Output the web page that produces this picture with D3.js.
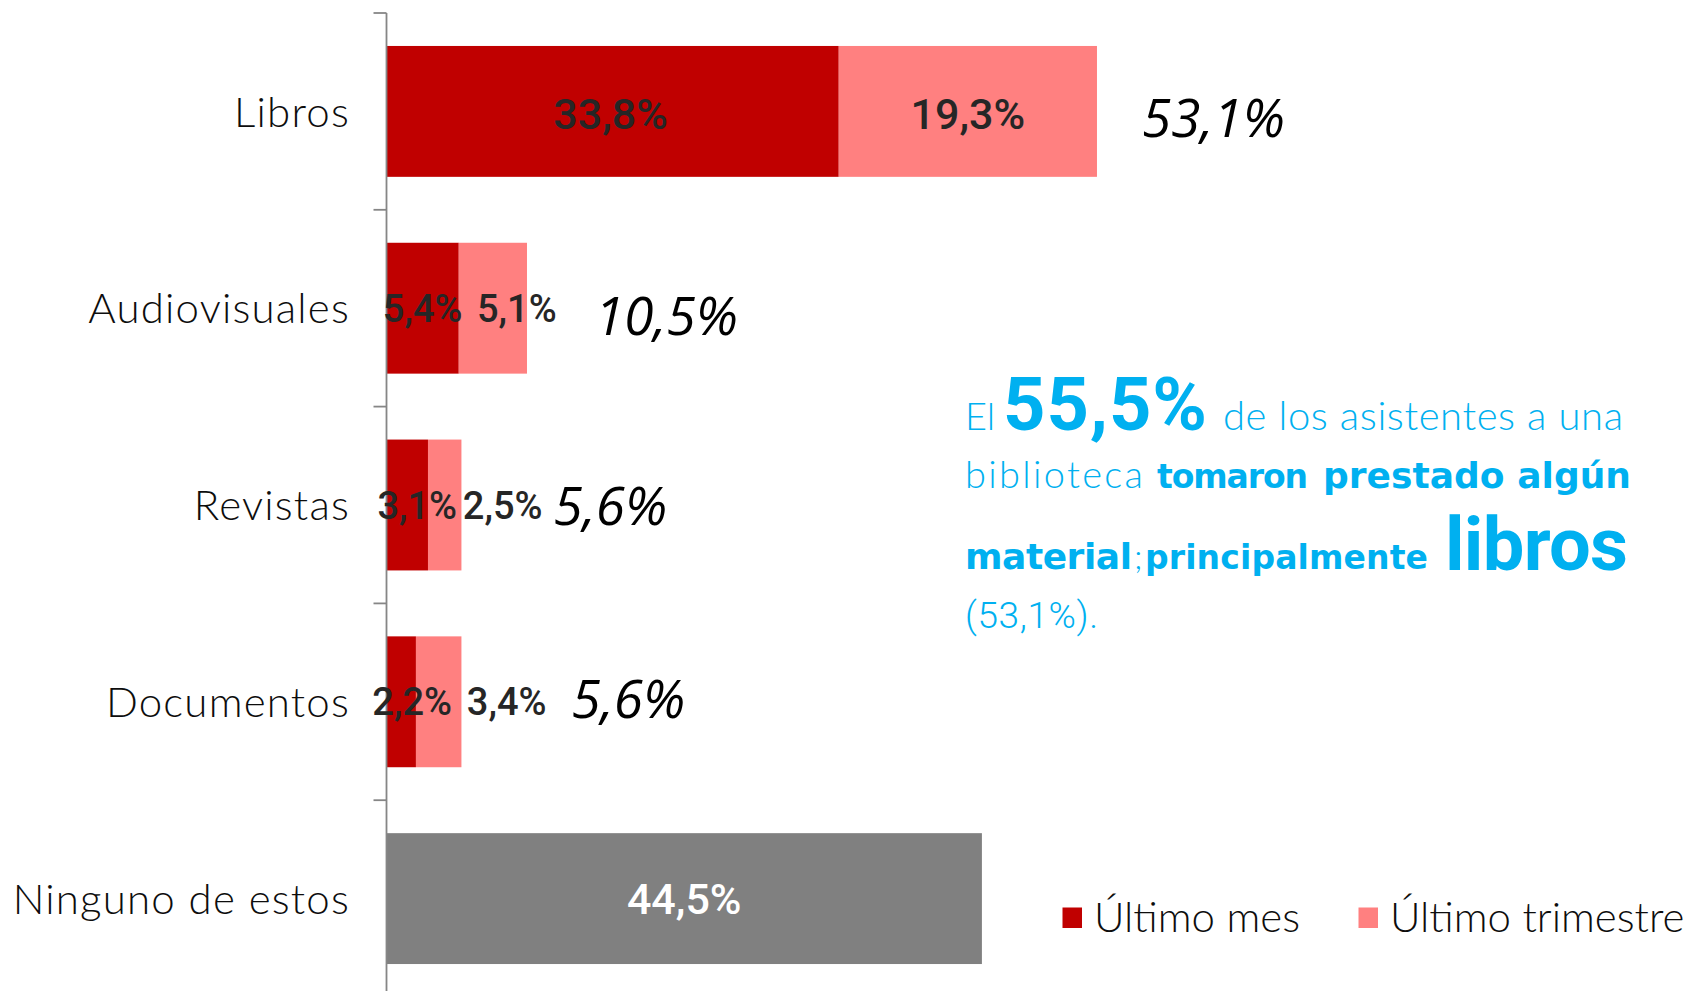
<!DOCTYPE html>
<html lang="es">
<head>
<meta charset="utf-8">
<title>Préstamo de materiales</title>
<script src="https://cdn.jsdelivr.net/npm/d3@7/dist/d3.min.js"></script>
<style>
  html, body { margin: 0; padding: 0; background: #ffffff; overflow: hidden; }
  svg { display: block; }
</style>
</head>
<body>
<svg id="chart" width="1688" height="991"></svg>
<script>
// Material prestado por la biblioteca (porcentaje de asistentes)
const categories = ["Libros", "Audiovisuales", "Revistas", "Documentos", "Ninguno de estos"];
const seriesNames = ["Último mes", "Último trimestre"];
const ultimoMes = [33.8, 5.4, 3.1, 2.2, null];
const ultimoTrimestre = [19.3, 5.1, 2.5, 3.4, null];
const ninguno = [null, null, null, null, 44.5];
const totales = [53.1, 10.5, 5.6, 5.6, null];

// Colores
const colorMes = "#C00000";
const colorTrim = "#FF8080";
const colorNinguno = "#808080";
const colorNota = "#00B0F0";

// Ajustes finos de posición de etiquetas (px)
const mesLabelDx = [-2, 0, 10, 11];
const trimLabelDx = [0, 24, 58, 68];
const totalDx = [45, 68, 92, 110];
const totalDy = [7, 8, 1, -3];

const fmt = v => v.toFixed(1).replace(".", ",") + "%";

const svg = d3.select("#chart");
svg.append("rect").attr("width", 1688).attr("height", 991).attr("fill", "#fff");

const x = d3.scaleLinear().domain([0, 60]).range([386.5, 386.5 + 60 * 13.38]);
const y = d3.scaleBand().domain(categories).range([13, 997])
  .paddingInner(0.335).paddingOuter(0.1675);

const g = svg.append("g");

// Barras apiladas
const rows = categories.map((c, i) => ({
  cat: c, i,
  mes: ultimoMes[i], trim: ultimoTrimestre[i], ning: ninguno[i], total: totales[i]
}));

const stacked = rows.filter(d => d.mes != null);

g.selectAll("rect.mes").data(stacked).join("rect")
  .attr("class", "mes")
  .attr("x", x(0)).attr("y", d => y(d.cat))
  .attr("width", d => x(d.mes) - x(0)).attr("height", y.bandwidth())
  .attr("fill", colorMes);

g.selectAll("rect.trim").data(stacked).join("rect")
  .attr("class", "trim")
  .attr("x", d => x(d.mes)).attr("y", d => y(d.cat))
  .attr("width", d => x(d.mes + d.trim) - x(d.mes)).attr("height", y.bandwidth())
  .attr("fill", colorTrim);

const solo = rows.filter(d => d.ning != null);
g.selectAll("rect.ning").data(solo).join("rect")
  .attr("class", "ning")
  .attr("x", x(0)).attr("y", d => y(d.cat))
  .attr("width", d => x(d.ning) - x(0)).attr("height", y.bandwidth())
  .attr("fill", colorNinguno);

// Eje vertical con marcas entre categorías
const axisX = x(0);
g.append("line")
  .attr("x1", axisX).attr("x2", axisX)
  .attr("y1", y.range()[0]).attr("y2", 991)
  .attr("stroke", "#868686").attr("stroke-width", 1.8);
d3.range(categories.length).forEach(k => {
  const ty = y.range()[0] + k * y.step();
  g.append("line")
    .attr("x1", axisX - 13).attr("x2", axisX)
    .attr("y1", ty).attr("y2", ty)
    .attr("stroke", "#868686").attr("stroke-width", 1.8);
});

// Etiquetas de categoría
g.selectAll("text.cat").data(categories).join("text")
  .attr("class", "cat")
  .attr("x", 350)
  .attr("y", d => y(d) + y.bandwidth() / 2)
  .attr("dy", "0.36em")
  .attr("text-anchor", "end")
  .attr("font-family", "Lato, 'Open Sans', sans-serif")
  .attr("font-weight", 300)
  .attr("font-size", 42)
  .attr("letter-spacing", 1.2)
  .attr("fill", "#0d0d0d")
  .text(d => d);

// Etiquetas de segmento
const segSize = d => d.i === 0 ? 43 : 38;
g.selectAll("text.lmes").data(stacked).join("text")
  .attr("class", "lmes")
  .attr("x", d => (x(0) + x(d.mes)) / 2 + mesLabelDx[d.i])
  .attr("y", d => y(d.cat) + y.bandwidth() / 2 + (d.i === 0 ? 2 : 0))
  .attr("dy", "0.36em")
  .attr("text-anchor", "middle")
  .attr("font-family", "Roboto, sans-serif")
  .attr("font-weight", 500)
  .attr("font-size", segSize)
  .attr("fill", "#262626")
  .text(d => fmt(d.mes));

g.selectAll("text.ltrim").data(stacked).join("text")
  .attr("class", "ltrim")
  .attr("x", d => (x(d.mes) + x(d.mes + d.trim)) / 2 + trimLabelDx[d.i])
  .attr("y", d => y(d.cat) + y.bandwidth() / 2 + (d.i === 0 ? 2 : 0))
  .attr("dy", "0.36em")
  .attr("text-anchor", "middle")
  .attr("font-family", "Roboto, sans-serif")
  .attr("font-weight", 500)
  .attr("font-size", segSize)
  .attr("fill", "#262626")
  .text(d => fmt(d.trim));

g.selectAll("text.lning").data(solo).join("text")
  .attr("class", "lning")
  .attr("x", d => (x(0) + x(d.ning)) / 2)
  .attr("y", d => y(d.cat) + y.bandwidth() / 2)
  .attr("dy", "0.36em")
  .attr("text-anchor", "middle")
  .attr("font-family", "Roboto, sans-serif")
  .attr("font-weight", 500)
  .attr("font-size", 43)
  .attr("fill", "#ffffff")
  .text(d => fmt(d.ning));

// Totales
g.selectAll("text.total").data(stacked).join("text")
  .attr("class", "total")
  .attr("x", d => x(d.total) + totalDx[d.i])
  .attr("y", d => y(d.cat) + y.bandwidth() / 2 + totalDy[d.i])
  .attr("dy", "0.36em")
  .attr("font-family", "'Open Sans', 'Noto Sans', sans-serif")
  .attr("font-style", "italic")
  .attr("font-weight", 500)
  .attr("font-size", 53)
  .attr("fill", "#000")
  .text(d => fmt(d.total));

// Leyenda
const legend = svg.append("g");
const legendItems = [
  { name: seriesNames[0], color: colorMes, x: 1062.5 },
  { name: seriesNames[1], color: colorTrim, x: 1358.5 }
];
legend.selectAll("rect").data(legendItems).join("rect")
  .attr("x", d => d.x).attr("y", 907.5)
  .attr("width", 19.5).attr("height", 20.5)
  .attr("fill", d => d.color);
legend.selectAll("text").data(legendItems).join("text")
  .attr("x", d => d.x + 31.5).attr("y", 932)
  .attr("font-family", "Lato, 'Open Sans', sans-serif")
  .attr("font-weight", 300)
  .attr("font-size", 42)
  .attr("fill", "#0d0d0d")
  .text(d => d.name);

// Nota destacada
const asistentesPct = 100 - ninguno[4];
const lightFont = "Lato, 'Open Sans', sans-serif";
const boldFont = "'DejaVu Sans', Verdana, sans-serif";
const nota = [
  { t: "El", x: 965, y: 430, f: lightFont, w: 300, s: 38, len: null },
  { t: fmt(asistentesPct), x: 1003, y: 430, f: "Roboto, sans-serif", w: 700, s: 74, len: 204 },
  { t: "de los asistentes a una", x: 1223, y: 430, f: lightFont, w: 300, s: 40, len: 400 },
  { t: "biblioteca", x: 965, y: 488, f: lightFont, w: 300, s: 38, len: 178 },
  { t: "tomaron", x: 1157, y: 488, f: boldFont, w: 700, s: 33, len: 151 },
  { t: "prestado algún", x: 1323, y: 488, f: boldFont, w: 700, s: 36, len: 308 },
  { t: "material", x: 965, y: 569, f: boldFont, w: 700, s: 36, len: 167 },
  { t: ";", x: 1134, y: 569, f: lightFont, w: 300, s: 34, len: null },
  { t: "principalmente", x: 1145, y: 569, f: boldFont, w: 700, s: 33, len: 283 },
  { t: "libros", x: 1445, y: 570, f: "Roboto, sans-serif", w: 700, s: 74, len: 183 },
  { t: "(" + fmt(totales[0]) + ").", x: 965, y: 628, f: "Roboto, sans-serif", w: 300, s: 37, len: 133 }
];
const notaSel = svg.append("g").selectAll("text").data(nota).join("text")
  .attr("x", d => d.x).attr("y", d => d.y)
  .attr("font-family", d => d.f)
  .attr("font-weight", d => d.w)
  .attr("font-size", d => d.s)
  .attr("fill", colorNota)
  .text(d => d.t);
notaSel.filter(d => d.len != null)
  .attr("textLength", d => d.len)
  .attr("lengthAdjust", "spacing");
</script>
</body>
</html>
